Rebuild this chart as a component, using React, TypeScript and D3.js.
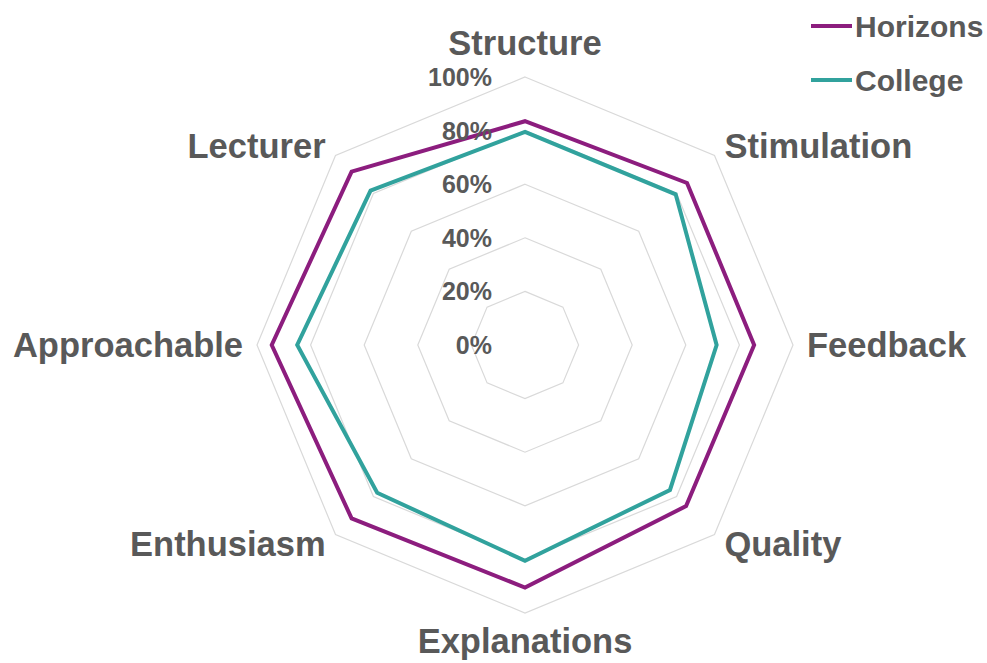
import React from "react";
import * as d3 from "d3";

const categories = ["Structure", "Stimulation", "Feedback", "Quality", "Explanations", "Enthusiasm", "Approachable", "Lecturer"];
const horizons = [83.5, 85.5, 85.5, 85, 90.5, 91.5, 94.5, 91.5];
const college = [79.5, 79.5, 71.5, 76.5, 80.5, 78, 85, 81.5];
const tickValues = [0, 20, 40, 60, 80, 100];
const tickLabels = ["0%", "20%", "40%", "60%", "80%", "100%"];
const seriesNames = ["Horizons", "College"];
const seriesColors = ["#8C1D7E", "#31A29D"];

const W = 987, H = 663;
const cx = 525, cy = 345;
const R = 268;
const FONT = "'Liberation Sans', Arial, sans-serif";
const TEXT = "#595959";

export default function App() {
  const r = d3.scaleLinear().domain([0, 100]).range([0, R]);
  const n = categories.length;
  const angle = d3.scalePoint<number>().domain(d3.range(n + 1)).range([0, 2 * Math.PI]);
  const a = (i: number) => angle(i) as number;

  const radial = (vals: number[]) =>
    d3.lineRadial<number>()
      .angle((_, i) => a(i))
      .radius((v) => r(v))
      .curve(d3.curveLinearClosed)(vals) as string;

  const rings = tickValues.filter((t) => t > 0);
  const series = [horizons, college];

  return (
    <svg width={W} height={H} style={{ position: "absolute", left: 0, top: 0, background: "#fff" }}>
      <g transform={`translate(${cx},${cy})`}>
        {rings.map((t) => (
          <path key={t} d={radial(categories.map(() => t))} fill="none" stroke="#d9d9d9" strokeWidth={1.2} />
        ))}
        {series.map((s, k) => (
          <path key={k} d={radial(s)} fill="none" stroke={seriesColors[k]} strokeWidth={4} strokeLinejoin="miter" />
        ))}
      </g>
      {tickValues.map((t, i) => (
        <text key={t} x={cx - 33} y={cy - r(t) + 9} textAnchor="end" fontFamily={FONT} fontWeight="bold" fontSize={25} fill={TEXT}>
          {tickLabels[i]}
        </text>
      ))}
      {categories.map((c, i) => {
        const ang = a(i);
        const sx = Math.sin(ang), sy = -Math.cos(ang);
        const px = cx + (R + 14) * sx;
        const py = cy + (R + 14) * sy;
        let anchor = "middle";
        if (sx > 0.01) anchor = "start";
        else if (sx < -0.01) anchor = "end";
        let by = py + 12;
        if (Math.abs(sx) < 0.01) by = sy < 0 ? py - 8 : py + 26;
        return (
          <text key={c} x={px} y={by} textAnchor={anchor} fontFamily={FONT} fontWeight="bold" fontSize={34.5} fill={TEXT}>
            {c}
          </text>
        );
      })}
      {seriesNames.map((s, k) => {
        const by = 37 + k * 54;
        return (
          <g key={s}>
            <line x1={811} x2={852} y1={by - 11} y2={by - 11} stroke={seriesColors[k]} strokeWidth={4} />
            <text x={855} y={by} fontFamily={FONT} fontWeight="bold" fontSize={30} fill={TEXT}>{s}</text>
          </g>
        );
      })}
    </svg>
  );
}
